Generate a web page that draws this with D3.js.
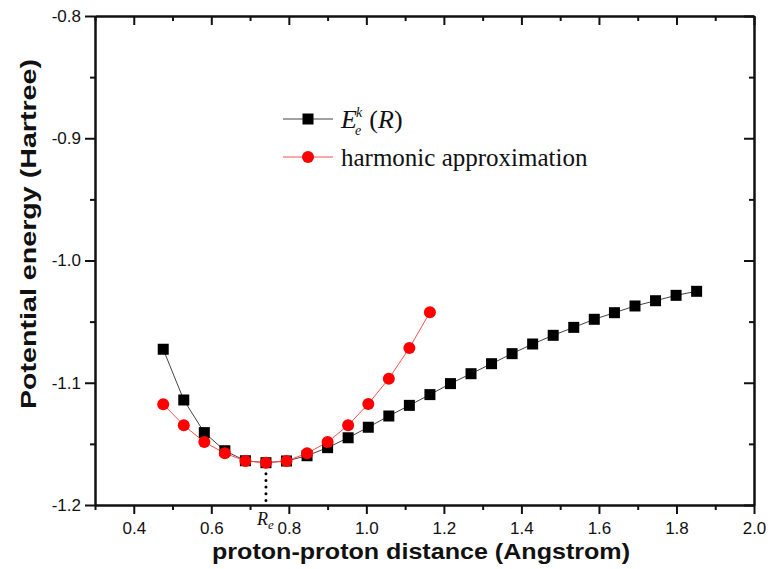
<!DOCTYPE html>
<html>
<head>
<meta charset="utf-8">
<script src="https://cdn.jsdelivr.net/npm/d3@7"></script>
<style>
    body { margin: 0; background: #fff; overflow: hidden; }
    svg { display: block; }
    .tick text { font-family: "Liberation Sans", Arial, sans-serif; font-size: 17px; fill: #111; }
    .axis-title { font-family: "Liberation Sans", Arial, sans-serif; font-weight: bold; font-size: 22px; fill: #111; }
    .legend-text { font-family: "Liberation Serif", "Times New Roman", serif; fill: #111; }
</style>
</head>
<body>
<div id="chart"></div>
<script>
// proton-proton distance (Angstrom)
const distance = [0.476, 0.529, 0.582, 0.635, 0.688, 0.741, 0.794, 0.847, 0.900, 0.953,
    1.005, 1.058, 1.111, 1.164, 1.217, 1.270, 1.323, 1.376, 1.429, 1.482,
    1.535, 1.588, 1.640, 1.693, 1.746, 1.799, 1.852];
// E_e^k(R), Hartree
const energyE = [-1.0726, -1.1141, -1.1408, -1.1556, -1.1638, -1.1654, -1.1640, -1.1597, -1.1531, -1.1450,
    -1.1364, -1.1272, -1.1185, -1.1097, -1.1007, -1.0926, -1.0844, -1.0762, -1.0683, -1.0612,
    -1.0547, -1.0481, -1.0427, -1.0372, -1.0329, -1.0285, -1.0252];
// harmonic approximation, Hartree (first 14 distances)
const energyHarmonic = [-1.1176, -1.1348, -1.1485, -1.1577, -1.1640, -1.1654, -1.1640, -1.1577, -1.1485, -1.1348,
    -1.1173, -1.0967, -1.0716, -1.0424];
const xMajorTicks = [0.4, 0.6, 0.8, 1.0, 1.2, 1.4, 1.6, 1.8, 2.0];
const xMinorTicks = [0.3, 0.5, 0.7, 0.9, 1.1, 1.3, 1.5, 1.7, 1.9];
const yMajorTicks = [-0.8, -0.9, -1.0, -1.1, -1.2];
const yMinorTicks = [-0.85, -0.95, -1.05, -1.15];
const rEquilibrium = 0.741;

const W = 768, H = 569;
const margin = {top: 16, right: 14, bottom: 64, left: 95},
    innerWidth = W - margin.left - margin.right,
    innerHeight = H - margin.top - margin.bottom;

const svg = d3.select('#chart')
    .append('svg')
    .attr('width', W)
    .attr('height', H);

const g = svg.append('g')
    .attr('transform', `translate(${margin.left},${margin.top})`);

const xScale = d3.scaleLinear().domain([0.3, 2.0]).range([0, innerWidth]);
const yScale = d3.scaleLinear().domain([-1.2, -0.8]).range([innerHeight, 0]);

const fmt = d => d.toFixed(1);

// axes: major + minor, bottom/left outward, top/right inward
function styleAxis(sel) {
    sel.selectAll('.domain').attr('stroke', '#111').attr('stroke-width', 2);
    sel.selectAll('.tick line').attr('stroke', '#111').attr('stroke-width', 2);
}

g.append('g').attr('transform', `translate(0,${innerHeight})`)
    .call(d3.axisBottom(xScale).tickValues(xMajorTicks).tickSize(9).tickSizeOuter(0).tickPadding(8).tickFormat(fmt))
    .call(styleAxis);
g.append('g').attr('transform', `translate(0,${innerHeight})`)
    .call(d3.axisBottom(xScale).tickValues(xMinorTicks).tickSize(5).tickSizeOuter(0).tickFormat(''))
    .call(styleAxis);
g.append('g')
    .call(d3.axisTop(xScale).tickValues(xMajorTicks).tickSize(-9).tickSizeOuter(0).tickFormat(''))
    .call(styleAxis);
g.append('g')
    .call(d3.axisTop(xScale).tickValues(xMinorTicks).tickSize(-5).tickSizeOuter(0).tickFormat(''))
    .call(styleAxis);

g.append('g')
    .call(d3.axisLeft(yScale).tickValues(yMajorTicks).tickSize(10).tickSizeOuter(0).tickPadding(4).tickFormat(fmt))
    .call(styleAxis);
g.append('g')
    .call(d3.axisLeft(yScale).tickValues(yMinorTicks).tickSize(5).tickSizeOuter(0).tickFormat(''))
    .call(styleAxis);
g.append('g').attr('transform', `translate(${innerWidth},0)`)
    .call(d3.axisRight(yScale).tickValues(yMajorTicks).tickSize(-10).tickSizeOuter(0).tickFormat(''))
    .call(styleAxis);
g.append('g').attr('transform', `translate(${innerWidth},0)`)
    .call(d3.axisRight(yScale).tickValues(yMinorTicks).tickSize(-5).tickSizeOuter(0).tickFormat(''))
    .call(styleAxis);

// axis titles
svg.append('text')
    .attr('class', 'axis-title')
    .attr('x', 421)
    .attr('y', 559)
    .attr('text-anchor', 'middle')
    .attr('textLength', 418)
    .attr('lengthAdjust', 'spacingAndGlyphs')
    .text('proton-proton distance (Angstrom)');

svg.append('text')
    .attr('class', 'axis-title')
    .attr('transform', 'translate(36,234) rotate(-90)')
    .attr('text-anchor', 'middle')
    .attr('textLength', 350)
    .attr('lengthAdjust', 'spacingAndGlyphs')
    .text('Potential energy (Hartree)');

// equilibrium marker
g.append('line')
    .attr('x1', xScale(rEquilibrium)).attr('x2', xScale(rEquilibrium))
    .attr('y1', yScale(-1.1654) + 11).attr('y2', innerHeight - 2)
    .attr('stroke', '#000')
    .attr('stroke-width', 3)
    .attr('stroke-linecap', 'round')
    .attr('stroke-dasharray', '0,6.7');

const reLabel = svg.append('text')
    .attr('class', 'legend-text')
    .attr('x', margin.left + xScale(rEquilibrium) - 9)
    .attr('y', 525)
    .style('font-size', '18px')
    .style('font-style', 'italic');
reLabel.append('tspan').text('R');
reLabel.append('tspan').attr('dy', 4).style('font-size', '13px').text('e');

// series
const dataE = distance.map((d, i) => ({x: d, y: energyE[i]}));
const dataH = energyHarmonic.map((v, i) => ({x: distance[i], y: v}));

const line = d3.line().x(d => xScale(d.x)).y(d => yScale(d.y));

g.append('path').datum(dataE)
    .attr('d', line)
    .attr('fill', 'none')
    .attr('stroke', '#444')
    .attr('stroke-width', 1);

g.append('path').datum(dataH)
    .attr('d', line)
    .attr('fill', 'none')
    .attr('stroke', '#ff5050')
    .attr('stroke-width', 1);

const sq = 11;
g.append('g').selectAll('rect')
    .data(dataE)
    .enter()
    .append('rect')
    .attr('x', d => xScale(d.x) - sq / 2)
    .attr('y', d => yScale(d.y) - sq / 2)
    .attr('width', sq)
    .attr('height', sq)
    .attr('fill', '#000');

g.append('g').selectAll('circle')
    .data(dataH)
    .enter()
    .append('circle')
    .attr('cx', d => xScale(d.x))
    .attr('cy', d => yScale(d.y))
    .attr('r', 6)
    .attr('fill', '#ff0000');

// legend
const legend = svg.append('g');
legend.append('line').attr('x1', 283).attr('x2', 333).attr('y1', 119).attr('y2', 119)
    .attr('stroke', '#444').attr('stroke-width', 1);
legend.append('rect').attr('x', 308 - sq / 2).attr('y', 119 - sq / 2).attr('width', sq).attr('height', sq).attr('fill', '#000');
legend.append('line').attr('x1', 283).attr('x2', 333).attr('y1', 157).attr('y2', 157)
    .attr('stroke', '#ff5050').attr('stroke-width', 1);
legend.append('circle').attr('cx', 308).attr('cy', 157).attr('r', 6).attr('fill', '#ff0000');

const eLabel = legend.append('text')
    .attr('class', 'legend-text')
    .attr('x', 341)
    .attr('y', 128)
    .style('font-size', '26px');
eLabel.append('tspan').style('font-style', 'italic').text('E');
eLabel.append('tspan').attr('dx', -1).attr('dy', -11).style('font-style', 'italic').style('font-size', '14px').text('k');
eLabel.append('tspan').attr('dx', -7).attr('dy', 18).style('font-style', 'italic').style('font-size', '14px').text('e');
eLabel.append('tspan').attr('dx', 8).attr('dy', -7).text('(');
eLabel.append('tspan').style('font-style', 'italic').text('R');
eLabel.append('tspan').text(')');

legend.append('text')
    .attr('class', 'legend-text')
    .attr('x', 341)
    .attr('y', 166)
    .style('font-size', '25px')
    .text('harmonic approximation');
</script>
</body>
</html>
